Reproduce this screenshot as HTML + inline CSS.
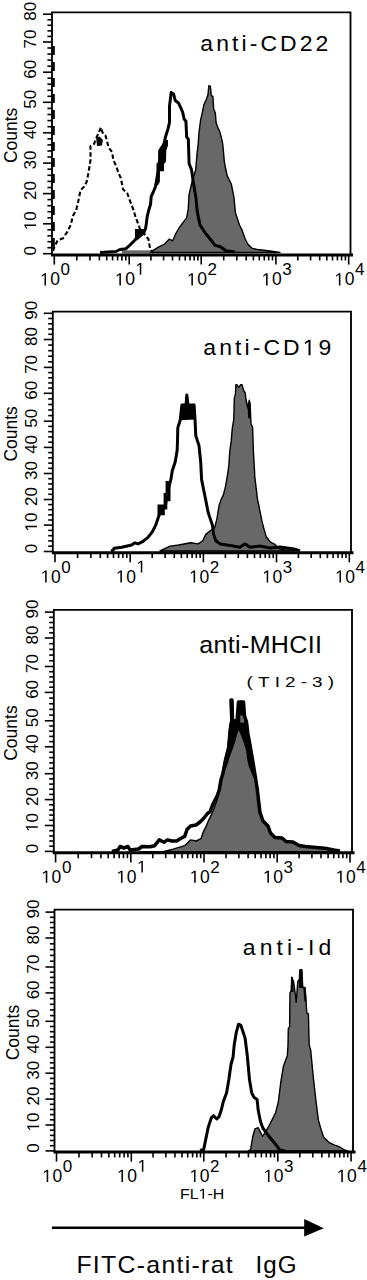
<!DOCTYPE html><html><head><meta charset="utf-8"><style>html,body{margin:0;padding:0;background:#fff;} svg{display:block} text{font-family:"Liberation Sans", sans-serif;fill:#000}</style></head><body>
<svg width="367" height="1280" viewBox="0 0 367 1280">
<polygon points="148.0,252.5 150.6,252.2 158.0,247.3 164.5,244.0 169.4,239.1 172.7,240.8 175.1,235.0 179.2,227.7 181.7,224.4 184.1,221.2 186.6,217.9 188.2,209.7 189.0,195.0 192.5,180.0 195.7,170.0 196.9,155.2 198.2,143.8 199.0,132.3 200.6,120.0 202.3,112.7 203.9,104.5 206.3,99.6 208.0,94.7 208.8,85.7 210.4,86.5 211.3,95.5 212.9,96.3 213.7,109.4 215.3,112.7 216.2,123.3 217.8,127.4 219.4,130.7 221.1,136.4 222.7,143.8 223.5,152.0 224.3,161.7 225.5,168.0 227.2,175.9 231.3,184.0 234.0,197.7 235.4,212.7 239.5,225.0 242.2,230.4 245.0,238.6 247.7,244.0 251.7,248.1 257.2,249.5 270.0,251.0 280.0,252.5" fill="#686868" stroke="#000" stroke-width="1.4" stroke-linejoin="round"/>
<polygon points="122.0,250.3 150.0,250.3 150.0,253.5 122.0,253.5" fill="#686868"/>
<polyline points="100.0,252.5 116.0,251.5 120.0,249.5 126.0,248.7 130.0,245.0 133.0,242.0 135.5,239.5 139.0,236.5 143.0,233.0 145.5,229.0 146.3,223.6 147.3,216.0 149.0,209.4 150.6,204.0 151.2,196.3 153.3,192.0 155.5,186.5 157.2,180.0 158.1,173.3 159.7,161.8 160.5,150.4 163.8,145.5 165.4,137.3 167.9,129.1 169.5,122.6 169.5,106.3 171.2,92.4 173.6,94.0 175.2,100.5 178.5,103.0 180.1,106.3 182.6,112.0 184.2,119.3 185.9,121.0 186.7,137.3 188.3,139.0 189.1,163.5 191.6,170.0 193.2,181.3 195.9,197.7 197.2,211.3 200.0,225.0 205.4,233.1 210.9,240.0 215.0,245.4 220.4,246.7 225.9,250.8 235.0,252.0" fill="none" stroke="#000" stroke-width="3.0" stroke-linejoin="round"/>
<polygon points="158.2,150.2 162.3,144.0 164.3,140.0 168.0,140.0 168.0,145.4 166.3,150.2 166.0,161.8 164.0,163.8 164.0,171.3 159.9,171.3 159.9,181.6 158.2,185.0 154.4,185.0 156.5,171.3 156.5,163.8 158.2,161.8" fill="#000"/>
<polygon points="135.0,229.0 145.5,229.0 145.5,233.0 141.0,237.0 138.0,239.5 134.9,239.3" fill="#000"/>
<polyline points="53.0,251.0 54.4,246.9 57.6,240.4 63.1,238.2 67.4,231.7 70.7,225.1 72.9,216.0 76.2,210.0 78.3,201.2 80.5,190.3 83.8,187.0 86.7,181.8 88.6,172.0 90.5,160.0 90.5,146.0 94.0,144.0 96.3,138.0 101.0,127.4 103.0,134.0 105.7,136.0 108.6,147.4 112.0,152.0 113.4,160.0 116.5,167.0 118.5,173.0 120.8,178.0 123.0,189.2 127.4,193.5 130.0,201.0 133.5,210.0 135.5,217.0 137.5,222.0 140.0,229.0 145.0,235.0 148.4,239.0 150.0,248.0 152.0,252.0" fill="none" stroke="#000" stroke-width="2.1" stroke-linejoin="round" stroke-dasharray="4.5 2.5"/>
<path d="M53.2,46 L53.2,252" stroke="#000" stroke-width="3.2" stroke-dasharray="9 7"/>
<polygon points="160.0,551.0 170.0,546.1 178.7,545.0 190.7,542.8 198.3,543.9 202.7,540.7 206.0,534.1 210.3,530.8 214.7,527.6 216.9,518.9 219.0,505.8 221.2,499.2 223.4,494.9 225.6,486.2 227.8,473.1 228.9,464.9 229.7,451.8 231.3,440.4 232.2,429.0 233.8,419.1 234.3,397.9 235.4,394.6 235.9,384.8 237.0,384.8 238.7,387.5 240.5,384.8 242.0,384.8 243.6,390.5 245.2,393.0 246.0,399.5 247.7,407.7 249.3,400.3 250.1,403.6 251.0,424.0 252.6,427.3 253.4,451.8 254.2,464.9 254.8,476.8 257.4,498.6 259.6,509.5 261.8,520.4 264.0,529.1 266.2,536.7 270.5,542.2 274.9,544.4 279.2,548.7 283.6,549.8 295.0,551.0" fill="#686868" stroke="#000" stroke-width="1.4" stroke-linejoin="round"/>
<polygon points="181.9,405.0 194.1,405.0 195.0,419.4 180.2,420.2" fill="#000"/>
<polyline points="111.0,551.0 113.0,550.3 114.2,548.3 121.8,547.2 131.6,545.0 134.9,542.8 138.1,543.9 142.5,541.7 148.0,537.4 152.3,531.9 155.6,525.4 157.8,518.9 161.0,510.0 165.5,505.0 166.5,498.0 168.0,490.0 171.0,479.0 172.2,471.0 175.2,462.0 177.2,450.0 177.5,441.0 177.8,427.6 180.2,420.2 181.9,405.0 186.0,405.0 186.8,395.0 188.0,405.0 194.1,405.0 195.0,419.4 195.8,435.8 197.4,440.7 199.0,445.6 200.7,462.0 201.6,479.6 203.8,490.5 206.0,501.4 208.1,512.3 210.3,518.9 212.5,525.4 213.6,534.1 215.8,540.7 220.1,543.9 226.7,545.0 233.2,546.1 239.8,547.2 245.2,543.9 250.0,547.2 260.0,546.0 270.0,548.0 280.0,547.0 294.0,549.0 300.0,551.0" fill="none" stroke="#000" stroke-width="3.0" stroke-linejoin="round"/>
<polygon points="165.6,481.0 170.5,481.0 170.5,501.3 167.3,501.3 167.3,509.5 164.8,509.5 164.8,515.2 157.5,515.2 157.5,504.6 163.6,504.6 163.6,493.0 165.6,493.0" fill="#000"/>
<polygon points="247.5,406.0 249.3,400.3 250.2,404.0 250.6,418.3 248.2,418.3" fill="#000"/>
<polygon points="221.5,774.0 224.0,760.9 226.0,752.0 227.3,747.8 228.9,729.8 230.0,722.0 230.2,700.0 231.5,700.0 232.3,720.0 237.5,720.0 238.2,701.6 243.6,701.6 244.2,715.0 246.0,716.0 246.9,733.0 249.3,747.8 251.8,762.5 254.0,774.0" fill="#000"/>
<polygon points="140.0,852.0 163.9,851.5 173.2,849.2 184.7,845.7 190.5,839.9 196.3,841.0 201.0,838.7 203.3,831.8 205.9,826.9 208.6,820.3 211.3,814.9 213.5,810.0 217.0,800.0 219.2,790.0 220.9,780.0 222.8,774.0 225.5,768.0 227.5,762.0 229.3,756.0 231.3,751.0 233.0,746.0 234.6,741.3 236.2,735.0 237.9,729.8 239.5,730.0 241.5,735.0 243.5,740.0 245.5,746.0 247.0,751.3 247.7,758.0 249.0,765.0 251.0,770.0 253.0,775.0 255.4,780.0 257.2,788.7 258.5,800.0 260.0,812.5 263.0,821.0 268.0,826.0 270.5,833.0 275.0,837.5 282.0,838.5 286.0,841.5 293.0,842.5 299.0,845.5 305.4,846.8 316.3,847.8 327.2,849.0 334.0,850.5 340.0,852.0" fill="#686868" stroke="#000" stroke-width="1.4" stroke-linejoin="round"/>
<polygon points="240.2,715.5 244.3,715.5 244.3,722.7 240.2,722.7" fill="#686868"/>
<polyline points="112.0,851.5 118.0,850.0 120.0,846.5 124.0,848.0 128.0,846.5 130.0,850.0 138.6,849.0 142.0,846.5 150.0,846.8 154.6,845.7 159.3,839.9 163.9,842.2 167.4,839.9 172.0,841.0 176.6,841.0 180.1,838.7 184.7,836.4 187.0,829.5 190.5,826.0 196.0,825.0 200.0,822.0 203.5,818.5 207.5,813.5 210.0,811.6 213.5,803.0 217.0,796.3 219.2,790.0 220.9,780.0 222.8,774.0 225.3,760.9 228.6,747.8 230.2,729.8 231.8,720.0 231.0,700.0 232.0,700.0 232.5,720.0 237.0,722.0 238.5,702.0 243.5,702.0 244.5,716.0 246.5,722.0 247.8,733.0 250.5,747.8 253.0,762.5 255.4,777.2 257.2,788.7 258.5,800.0 260.0,812.5 263.0,821.0 268.0,826.0 270.5,833.0 275.0,837.5 282.0,838.0 286.0,841.5 293.0,842.0 299.0,845.5 305.4,846.5 316.3,847.5 327.2,848.6 334.0,850.0 340.0,851.0" fill="none" stroke="#000" stroke-width="3.5" stroke-linejoin="round"/>
<polygon points="248.0,1151.0 250.6,1149.5 252.8,1136.4 255.0,1128.8 258.2,1127.7 260.4,1132.1 262.6,1136.4 265.4,1131.9 267.9,1128.0 271.8,1120.2 275.7,1112.5 278.3,1102.1 279.6,1091.8 280.9,1081.4 283.5,1065.9 287.4,1055.5 288.0,1044.9 288.3,1028.6 289.6,1026.9 290.0,992.6 291.3,991.0 291.7,977.1 293.7,982.0 295.3,994.2 296.2,1002.4 297.8,981.2 299.4,979.5 299.9,969.7 301.9,969.7 302.7,986.9 305.1,987.7 306.0,1000.8 306.8,1013.0 308.4,1013.9 309.2,1044.9 310.7,1050.4 313.2,1076.2 315.8,1099.5 318.4,1120.2 321.0,1129.3 323.6,1137.1 328.8,1142.3 334.0,1144.8 337.8,1146.1 340.4,1147.4 344.3,1150.0 348.0,1151.0" fill="#686868" stroke="#000" stroke-width="1.4" stroke-linejoin="round"/>
<polyline points="200.0,1150.5 203.7,1149.5 205.9,1138.6 208.1,1127.7 211.3,1117.9 213.5,1115.7 216.8,1119.0 219.0,1116.8 221.2,1110.3 223.3,1101.6 226.6,1092.8 228.8,1079.8 231.0,1064.5 233.1,1056.9 234.2,1044.9 236.4,1031.8 238.6,1024.2 240.8,1025.3 243.0,1031.8 245.1,1038.3 247.3,1055.8 249.5,1079.8 251.7,1092.8 253.9,1097.2 257.1,1099.4 258.2,1110.3 260.4,1121.2 262.8,1128.0 266.6,1133.2 271.8,1139.7 277.0,1146.1 279.6,1150.0 285.0,1151.0" fill="none" stroke="#000" stroke-width="3.0" stroke-linejoin="round"/>
<polygon points="290.6,992.0 291.3,977.0 292.9,977.5 293.6,992.0" fill="#000"/>
<polygon points="298.8,988.0 299.3,969.7 302.2,969.7 302.9,987.7" fill="#000"/>
<polygon points="303.2,987.2 305.6,987.7 306.6,1001.6 304.5,1001.6" fill="#000"/>
<polygon points="96.2,138.0 99.5,136.5 102.9,140.0 102.0,145.5 97.0,146.0" fill="#000"/>
<path d="M52.0,254.6 L52.0,12.3 L350.5,12.3 L350.5,254.6" fill="none" stroke="#000" stroke-width="1.85"/>
<path d="M51.0,255.0 L353.0,255.0" fill="none" stroke="#000" stroke-width="3.1"/>
<path d="M43.0,253.7 L52.0,253.7" stroke="#000" stroke-width="1.6"/>
<path d="M47.4,247.7 L52.0,247.7" stroke="#000" stroke-width="1.6"/>
<path d="M47.4,241.7 L52.0,241.7" stroke="#000" stroke-width="1.6"/>
<path d="M47.4,235.8 L52.0,235.8" stroke="#000" stroke-width="1.6"/>
<path d="M47.4,229.8 L52.0,229.8" stroke="#000" stroke-width="1.6"/>
<path d="M43.0,223.8 L52.0,223.8" stroke="#000" stroke-width="1.6"/>
<path d="M47.4,217.8 L52.0,217.8" stroke="#000" stroke-width="1.6"/>
<path d="M47.4,211.7 L52.0,211.7" stroke="#000" stroke-width="1.6"/>
<path d="M47.4,205.7 L52.0,205.7" stroke="#000" stroke-width="1.6"/>
<path d="M47.4,199.6 L52.0,199.6" stroke="#000" stroke-width="1.6"/>
<path d="M43.0,193.6 L52.0,193.6" stroke="#000" stroke-width="1.6"/>
<path d="M47.4,187.5 L52.0,187.5" stroke="#000" stroke-width="1.6"/>
<path d="M47.4,181.4 L52.0,181.4" stroke="#000" stroke-width="1.6"/>
<path d="M47.4,175.3 L52.0,175.3" stroke="#000" stroke-width="1.6"/>
<path d="M47.4,169.2 L52.0,169.2" stroke="#000" stroke-width="1.6"/>
<path d="M43.0,163.1 L52.0,163.1" stroke="#000" stroke-width="1.6"/>
<path d="M47.4,157.0 L52.0,157.0" stroke="#000" stroke-width="1.6"/>
<path d="M47.4,151.0 L52.0,151.0" stroke="#000" stroke-width="1.6"/>
<path d="M47.4,144.9 L52.0,144.9" stroke="#000" stroke-width="1.6"/>
<path d="M47.4,138.9 L52.0,138.9" stroke="#000" stroke-width="1.6"/>
<path d="M43.0,132.8 L52.0,132.8" stroke="#000" stroke-width="1.6"/>
<path d="M47.4,126.7 L52.0,126.7" stroke="#000" stroke-width="1.6"/>
<path d="M47.4,120.6 L52.0,120.6" stroke="#000" stroke-width="1.6"/>
<path d="M47.4,114.5 L52.0,114.5" stroke="#000" stroke-width="1.6"/>
<path d="M47.4,108.4 L52.0,108.4" stroke="#000" stroke-width="1.6"/>
<path d="M43.0,102.3 L52.0,102.3" stroke="#000" stroke-width="1.6"/>
<path d="M47.4,96.3 L52.0,96.3" stroke="#000" stroke-width="1.6"/>
<path d="M47.4,90.3 L52.0,90.3" stroke="#000" stroke-width="1.6"/>
<path d="M47.4,84.2 L52.0,84.2" stroke="#000" stroke-width="1.6"/>
<path d="M47.4,78.2 L52.0,78.2" stroke="#000" stroke-width="1.6"/>
<path d="M43.0,72.2 L52.0,72.2" stroke="#000" stroke-width="1.6"/>
<path d="M47.4,66.2 L52.0,66.2" stroke="#000" stroke-width="1.6"/>
<path d="M47.4,60.1 L52.0,60.1" stroke="#000" stroke-width="1.6"/>
<path d="M47.4,54.1 L52.0,54.1" stroke="#000" stroke-width="1.6"/>
<path d="M47.4,48.0 L52.0,48.0" stroke="#000" stroke-width="1.6"/>
<path d="M43.0,42.0 L52.0,42.0" stroke="#000" stroke-width="1.6"/>
<path d="M47.4,36.4 L52.0,36.4" stroke="#000" stroke-width="1.6"/>
<path d="M47.4,30.9 L52.0,30.9" stroke="#000" stroke-width="1.6"/>
<path d="M47.4,25.3 L52.0,25.3" stroke="#000" stroke-width="1.6"/>
<path d="M47.4,19.8 L52.0,19.8" stroke="#000" stroke-width="1.6"/>
<path d="M43.0,14.2 L52.0,14.2" stroke="#000" stroke-width="1.6"/>
<g transform="translate(36.0,250.7) rotate(-90)"><text text-anchor="middle" font-size="17">0</text></g>
<g transform="translate(36.0,220.8) rotate(-90)"><text text-anchor="middle" font-size="17"> 0</text><path d="M515,0 L515,1237 L197,1010 L197,1180 L530,1409 L696,1409 L696,0 Z" transform="translate(-9.46,0.00) scale(0.00830,-0.00830)"/></g>
<g transform="translate(36.0,190.6) rotate(-90)"><text text-anchor="middle" font-size="17">20</text></g>
<g transform="translate(36.0,160.1) rotate(-90)"><text text-anchor="middle" font-size="17">30</text></g>
<g transform="translate(36.0,129.8) rotate(-90)"><text text-anchor="middle" font-size="17">40</text></g>
<g transform="translate(36.0,99.3) rotate(-90)"><text text-anchor="middle" font-size="17">50</text></g>
<g transform="translate(36.0,69.2) rotate(-90)"><text text-anchor="middle" font-size="17">60</text></g>
<g transform="translate(36.0,39.0) rotate(-90)"><text text-anchor="middle" font-size="17">70</text></g>
<g transform="translate(36.0,11.2) rotate(-90)"><text text-anchor="middle" font-size="17">80</text></g>
<path d="M54.3,254.6 L54.3,264.6" stroke="#000" stroke-width="1.6"/>
<path d="M76.8,254.6 L76.8,260.4" stroke="#000" stroke-width="1.6"/>
<path d="M90.0,254.6 L90.0,260.4" stroke="#000" stroke-width="1.6"/>
<path d="M99.4,254.6 L99.4,260.4" stroke="#000" stroke-width="1.6"/>
<path d="M106.7,254.6 L106.7,260.4" stroke="#000" stroke-width="1.6"/>
<path d="M112.6,254.6 L112.6,260.4" stroke="#000" stroke-width="1.6"/>
<path d="M117.6,254.6 L117.6,260.4" stroke="#000" stroke-width="1.6"/>
<path d="M121.9,254.6 L121.9,260.4" stroke="#000" stroke-width="1.6"/>
<path d="M125.8,254.6 L125.8,260.4" stroke="#000" stroke-width="1.6"/>
<path d="M129.2,254.6 L129.2,264.6" stroke="#000" stroke-width="1.6"/>
<path d="M150.9,254.6 L150.9,260.4" stroke="#000" stroke-width="1.6"/>
<path d="M163.6,254.6 L163.6,260.4" stroke="#000" stroke-width="1.6"/>
<path d="M172.5,254.6 L172.5,260.4" stroke="#000" stroke-width="1.6"/>
<path d="M179.5,254.6 L179.5,260.4" stroke="#000" stroke-width="1.6"/>
<path d="M185.2,254.6 L185.2,260.4" stroke="#000" stroke-width="1.6"/>
<path d="M190.0,254.6 L190.0,260.4" stroke="#000" stroke-width="1.6"/>
<path d="M194.2,254.6 L194.2,260.4" stroke="#000" stroke-width="1.6"/>
<path d="M197.9,254.6 L197.9,260.4" stroke="#000" stroke-width="1.6"/>
<path d="M201.2,254.6 L201.2,264.6" stroke="#000" stroke-width="1.6"/>
<path d="M223.7,254.6 L223.7,260.4" stroke="#000" stroke-width="1.6"/>
<path d="M236.8,254.6 L236.8,260.4" stroke="#000" stroke-width="1.6"/>
<path d="M246.2,254.6 L246.2,260.4" stroke="#000" stroke-width="1.6"/>
<path d="M253.4,254.6 L253.4,260.4" stroke="#000" stroke-width="1.6"/>
<path d="M259.3,254.6 L259.3,260.4" stroke="#000" stroke-width="1.6"/>
<path d="M264.3,254.6 L264.3,260.4" stroke="#000" stroke-width="1.6"/>
<path d="M268.7,254.6 L268.7,260.4" stroke="#000" stroke-width="1.6"/>
<path d="M272.5,254.6 L272.5,260.4" stroke="#000" stroke-width="1.6"/>
<path d="M275.9,254.6 L275.9,264.6" stroke="#000" stroke-width="1.6"/>
<path d="M297.8,254.6 L297.8,260.4" stroke="#000" stroke-width="1.6"/>
<path d="M310.6,254.6 L310.6,260.4" stroke="#000" stroke-width="1.6"/>
<path d="M319.7,254.6 L319.7,260.4" stroke="#000" stroke-width="1.6"/>
<path d="M326.8,254.6 L326.8,260.4" stroke="#000" stroke-width="1.6"/>
<path d="M332.5,254.6 L332.5,260.4" stroke="#000" stroke-width="1.6"/>
<path d="M337.4,254.6 L337.4,260.4" stroke="#000" stroke-width="1.6"/>
<path d="M341.6,254.6 L341.6,260.4" stroke="#000" stroke-width="1.6"/>
<path d="M345.4,254.6 L345.4,260.4" stroke="#000" stroke-width="1.6"/>
<path d="M348.7,254.6 L348.7,264.6" stroke="#000" stroke-width="1.6"/>
<text x="50.3" y="285.4" text-anchor="middle" font-size="17.5" letter-spacing="0.5"> 0</text><path d="M515,0 L515,1237 L197,1010 L197,1180 L530,1409 L696,1409 L696,0 Z" transform="translate(40.07,285.40) scale(0.00854,-0.00854)"/>
<text x="60.6" y="274.8" font-size="17">0</text>
<text x="125.2" y="285.4" text-anchor="middle" font-size="17.5" letter-spacing="0.5"> 0</text><path d="M515,0 L515,1237 L197,1010 L197,1180 L530,1409 L696,1409 L696,0 Z" transform="translate(114.97,285.40) scale(0.00854,-0.00854)"/>
<text x="135.5" y="274.8" font-size="17"> </text><path d="M515,0 L515,1237 L197,1010 L197,1180 L530,1409 L696,1409 L696,0 Z" transform="translate(135.50,274.80) scale(0.00830,-0.00830)"/>
<text x="197.2" y="285.4" text-anchor="middle" font-size="17.5" letter-spacing="0.5"> 0</text><path d="M515,0 L515,1237 L197,1010 L197,1180 L530,1409 L696,1409 L696,0 Z" transform="translate(186.97,285.40) scale(0.00854,-0.00854)"/>
<text x="207.5" y="274.8" font-size="17">2</text>
<text x="271.9" y="285.4" text-anchor="middle" font-size="17.5" letter-spacing="0.5"> 0</text><path d="M515,0 L515,1237 L197,1010 L197,1180 L530,1409 L696,1409 L696,0 Z" transform="translate(261.67,285.40) scale(0.00854,-0.00854)"/>
<text x="282.2" y="274.8" font-size="17">3</text>
<text x="344.7" y="285.4" text-anchor="middle" font-size="17.5" letter-spacing="0.5"> 0</text><path d="M515,0 L515,1237 L197,1010 L197,1180 L530,1409 L696,1409 L696,0 Z" transform="translate(334.47,285.40) scale(0.00854,-0.00854)"/>
<text x="355.0" y="274.8" font-size="17">4</text>
<text transform="translate(16.8,135.4) rotate(-90)" text-anchor="middle" font-size="17.5">Counts</text>
<path d="M52.8,552.3 L52.8,311.6 L351.0,311.6 L351.0,552.3" fill="none" stroke="#000" stroke-width="1.85"/>
<path d="M51.8,552.6999999999999 L353.5,552.6999999999999" fill="none" stroke="#000" stroke-width="3.1"/>
<path d="M43.8,551.5 L52.8,551.5" stroke="#000" stroke-width="1.6"/>
<path d="M48.2,546.2 L52.8,546.2" stroke="#000" stroke-width="1.6"/>
<path d="M48.2,540.9 L52.8,540.9" stroke="#000" stroke-width="1.6"/>
<path d="M48.2,535.7 L52.8,535.7" stroke="#000" stroke-width="1.6"/>
<path d="M48.2,530.4 L52.8,530.4" stroke="#000" stroke-width="1.6"/>
<path d="M43.8,525.1 L52.8,525.1" stroke="#000" stroke-width="1.6"/>
<path d="M48.2,520.0 L52.8,520.0" stroke="#000" stroke-width="1.6"/>
<path d="M48.2,514.9 L52.8,514.9" stroke="#000" stroke-width="1.6"/>
<path d="M48.2,509.7 L52.8,509.7" stroke="#000" stroke-width="1.6"/>
<path d="M48.2,504.6 L52.8,504.6" stroke="#000" stroke-width="1.6"/>
<path d="M43.8,499.5 L52.8,499.5" stroke="#000" stroke-width="1.6"/>
<path d="M48.2,494.3 L52.8,494.3" stroke="#000" stroke-width="1.6"/>
<path d="M48.2,489.1 L52.8,489.1" stroke="#000" stroke-width="1.6"/>
<path d="M48.2,483.9 L52.8,483.9" stroke="#000" stroke-width="1.6"/>
<path d="M48.2,478.7 L52.8,478.7" stroke="#000" stroke-width="1.6"/>
<path d="M43.8,473.5 L52.8,473.5" stroke="#000" stroke-width="1.6"/>
<path d="M48.2,468.3 L52.8,468.3" stroke="#000" stroke-width="1.6"/>
<path d="M48.2,463.1 L52.8,463.1" stroke="#000" stroke-width="1.6"/>
<path d="M48.2,457.8 L52.8,457.8" stroke="#000" stroke-width="1.6"/>
<path d="M48.2,452.6 L52.8,452.6" stroke="#000" stroke-width="1.6"/>
<path d="M43.8,447.4 L52.8,447.4" stroke="#000" stroke-width="1.6"/>
<path d="M48.2,442.2 L52.8,442.2" stroke="#000" stroke-width="1.6"/>
<path d="M48.2,436.9 L52.8,436.9" stroke="#000" stroke-width="1.6"/>
<path d="M48.2,431.7 L52.8,431.7" stroke="#000" stroke-width="1.6"/>
<path d="M48.2,426.4 L52.8,426.4" stroke="#000" stroke-width="1.6"/>
<path d="M43.8,421.2 L52.8,421.2" stroke="#000" stroke-width="1.6"/>
<path d="M48.2,415.6 L52.8,415.6" stroke="#000" stroke-width="1.6"/>
<path d="M48.2,410.0 L52.8,410.0" stroke="#000" stroke-width="1.6"/>
<path d="M48.2,404.5 L52.8,404.5" stroke="#000" stroke-width="1.6"/>
<path d="M48.2,398.9 L52.8,398.9" stroke="#000" stroke-width="1.6"/>
<path d="M43.8,393.3 L52.8,393.3" stroke="#000" stroke-width="1.6"/>
<path d="M48.2,388.1 L52.8,388.1" stroke="#000" stroke-width="1.6"/>
<path d="M48.2,382.9 L52.8,382.9" stroke="#000" stroke-width="1.6"/>
<path d="M48.2,377.8 L52.8,377.8" stroke="#000" stroke-width="1.6"/>
<path d="M48.2,372.6 L52.8,372.6" stroke="#000" stroke-width="1.6"/>
<path d="M43.8,367.4 L52.8,367.4" stroke="#000" stroke-width="1.6"/>
<path d="M48.2,361.8 L52.8,361.8" stroke="#000" stroke-width="1.6"/>
<path d="M48.2,356.2 L52.8,356.2" stroke="#000" stroke-width="1.6"/>
<path d="M48.2,350.7 L52.8,350.7" stroke="#000" stroke-width="1.6"/>
<path d="M48.2,345.1 L52.8,345.1" stroke="#000" stroke-width="1.6"/>
<path d="M43.8,339.5 L52.8,339.5" stroke="#000" stroke-width="1.6"/>
<path d="M48.2,334.3 L52.8,334.3" stroke="#000" stroke-width="1.6"/>
<path d="M48.2,329.0 L52.8,329.0" stroke="#000" stroke-width="1.6"/>
<path d="M48.2,323.8 L52.8,323.8" stroke="#000" stroke-width="1.6"/>
<path d="M48.2,318.5 L52.8,318.5" stroke="#000" stroke-width="1.6"/>
<path d="M43.8,313.3 L52.8,313.3" stroke="#000" stroke-width="1.6"/>
<g transform="translate(37.0,548.5) rotate(-90)"><text text-anchor="middle" font-size="17">0</text></g>
<g transform="translate(37.0,522.1) rotate(-90)"><text text-anchor="middle" font-size="17"> 0</text><path d="M515,0 L515,1237 L197,1010 L197,1180 L530,1409 L696,1409 L696,0 Z" transform="translate(-9.46,0.00) scale(0.00830,-0.00830)"/></g>
<g transform="translate(37.0,496.5) rotate(-90)"><text text-anchor="middle" font-size="17">20</text></g>
<g transform="translate(37.0,470.5) rotate(-90)"><text text-anchor="middle" font-size="17">30</text></g>
<g transform="translate(37.0,444.4) rotate(-90)"><text text-anchor="middle" font-size="17">40</text></g>
<g transform="translate(37.0,418.2) rotate(-90)"><text text-anchor="middle" font-size="17">50</text></g>
<g transform="translate(37.0,390.3) rotate(-90)"><text text-anchor="middle" font-size="17">60</text></g>
<g transform="translate(37.0,364.4) rotate(-90)"><text text-anchor="middle" font-size="17">70</text></g>
<g transform="translate(37.0,336.5) rotate(-90)"><text text-anchor="middle" font-size="17">80</text></g>
<g transform="translate(37.0,310.3) rotate(-90)"><text text-anchor="middle" font-size="17">90</text></g>
<path d="M55.0,552.3 L55.0,562.3" stroke="#000" stroke-width="1.6"/>
<path d="M77.6,552.3 L77.6,558.0999999999999" stroke="#000" stroke-width="1.6"/>
<path d="M90.9,552.3 L90.9,558.0999999999999" stroke="#000" stroke-width="1.6"/>
<path d="M100.3,552.3 L100.3,558.0999999999999" stroke="#000" stroke-width="1.6"/>
<path d="M107.6,552.3 L107.6,558.0999999999999" stroke="#000" stroke-width="1.6"/>
<path d="M113.5,552.3 L113.5,558.0999999999999" stroke="#000" stroke-width="1.6"/>
<path d="M118.6,552.3 L118.6,558.0999999999999" stroke="#000" stroke-width="1.6"/>
<path d="M122.9,552.3 L122.9,558.0999999999999" stroke="#000" stroke-width="1.6"/>
<path d="M126.8,552.3 L126.8,558.0999999999999" stroke="#000" stroke-width="1.6"/>
<path d="M130.2,552.3 L130.2,562.3" stroke="#000" stroke-width="1.6"/>
<path d="M152.2,552.3 L152.2,558.0999999999999" stroke="#000" stroke-width="1.6"/>
<path d="M165.1,552.3 L165.1,558.0999999999999" stroke="#000" stroke-width="1.6"/>
<path d="M174.3,552.3 L174.3,558.0999999999999" stroke="#000" stroke-width="1.6"/>
<path d="M181.4,552.3 L181.4,558.0999999999999" stroke="#000" stroke-width="1.6"/>
<path d="M187.2,552.3 L187.2,558.0999999999999" stroke="#000" stroke-width="1.6"/>
<path d="M192.1,552.3 L192.1,558.0999999999999" stroke="#000" stroke-width="1.6"/>
<path d="M196.3,552.3 L196.3,558.0999999999999" stroke="#000" stroke-width="1.6"/>
<path d="M200.1,552.3 L200.1,558.0999999999999" stroke="#000" stroke-width="1.6"/>
<path d="M203.4,552.3 L203.4,562.3" stroke="#000" stroke-width="1.6"/>
<path d="M225.4,552.3 L225.4,558.0999999999999" stroke="#000" stroke-width="1.6"/>
<path d="M238.3,552.3 L238.3,558.0999999999999" stroke="#000" stroke-width="1.6"/>
<path d="M247.4,552.3 L247.4,558.0999999999999" stroke="#000" stroke-width="1.6"/>
<path d="M254.5,552.3 L254.5,558.0999999999999" stroke="#000" stroke-width="1.6"/>
<path d="M260.3,552.3 L260.3,558.0999999999999" stroke="#000" stroke-width="1.6"/>
<path d="M265.2,552.3 L265.2,558.0999999999999" stroke="#000" stroke-width="1.6"/>
<path d="M269.4,552.3 L269.4,558.0999999999999" stroke="#000" stroke-width="1.6"/>
<path d="M273.2,552.3 L273.2,558.0999999999999" stroke="#000" stroke-width="1.6"/>
<path d="M276.5,552.3 L276.5,562.3" stroke="#000" stroke-width="1.6"/>
<path d="M298.4,552.3 L298.4,558.0999999999999" stroke="#000" stroke-width="1.6"/>
<path d="M311.2,552.3 L311.2,558.0999999999999" stroke="#000" stroke-width="1.6"/>
<path d="M320.3,552.3 L320.3,558.0999999999999" stroke="#000" stroke-width="1.6"/>
<path d="M327.4,552.3 L327.4,558.0999999999999" stroke="#000" stroke-width="1.6"/>
<path d="M333.1,552.3 L333.1,558.0999999999999" stroke="#000" stroke-width="1.6"/>
<path d="M338.0,552.3 L338.0,558.0999999999999" stroke="#000" stroke-width="1.6"/>
<path d="M342.2,552.3 L342.2,558.0999999999999" stroke="#000" stroke-width="1.6"/>
<path d="M346.0,552.3 L346.0,558.0999999999999" stroke="#000" stroke-width="1.6"/>
<path d="M349.3,552.3 L349.3,562.3" stroke="#000" stroke-width="1.6"/>
<text x="51.0" y="582.6" text-anchor="middle" font-size="17.5" letter-spacing="0.5"> 0</text><path d="M515,0 L515,1237 L197,1010 L197,1180 L530,1409 L696,1409 L696,0 Z" transform="translate(40.77,582.60) scale(0.00854,-0.00854)"/>
<text x="61.3" y="572.5" font-size="17">0</text>
<text x="126.2" y="582.6" text-anchor="middle" font-size="17.5" letter-spacing="0.5"> 0</text><path d="M515,0 L515,1237 L197,1010 L197,1180 L530,1409 L696,1409 L696,0 Z" transform="translate(115.97,582.60) scale(0.00854,-0.00854)"/>
<text x="136.5" y="572.5" font-size="17"> </text><path d="M515,0 L515,1237 L197,1010 L197,1180 L530,1409 L696,1409 L696,0 Z" transform="translate(136.50,572.50) scale(0.00830,-0.00830)"/>
<text x="199.4" y="582.6" text-anchor="middle" font-size="17.5" letter-spacing="0.5"> 0</text><path d="M515,0 L515,1237 L197,1010 L197,1180 L530,1409 L696,1409 L696,0 Z" transform="translate(189.17,582.60) scale(0.00854,-0.00854)"/>
<text x="209.7" y="572.5" font-size="17">2</text>
<text x="272.5" y="582.6" text-anchor="middle" font-size="17.5" letter-spacing="0.5"> 0</text><path d="M515,0 L515,1237 L197,1010 L197,1180 L530,1409 L696,1409 L696,0 Z" transform="translate(262.27,582.60) scale(0.00854,-0.00854)"/>
<text x="282.8" y="572.5" font-size="17">3</text>
<text x="345.3" y="582.6" text-anchor="middle" font-size="17.5" letter-spacing="0.5"> 0</text><path d="M515,0 L515,1237 L197,1010 L197,1180 L530,1409 L696,1409 L696,0 Z" transform="translate(335.07,582.60) scale(0.00854,-0.00854)"/>
<text x="355.6" y="572.5" font-size="17">4</text>
<text transform="translate(17.0,433.9) rotate(-90)" text-anchor="middle" font-size="17.5">Counts</text>
<path d="M53.8,852.4 L53.8,609.8 L352.0,609.8 L352.0,852.4" fill="none" stroke="#000" stroke-width="1.85"/>
<path d="M52.8,852.8 L354.5,852.8" fill="none" stroke="#000" stroke-width="3.1"/>
<path d="M44.8,851.4 L53.8,851.4" stroke="#000" stroke-width="1.6"/>
<path d="M49.2,846.2 L53.8,846.2" stroke="#000" stroke-width="1.6"/>
<path d="M49.2,841.0 L53.8,841.0" stroke="#000" stroke-width="1.6"/>
<path d="M49.2,835.9 L53.8,835.9" stroke="#000" stroke-width="1.6"/>
<path d="M49.2,830.7 L53.8,830.7" stroke="#000" stroke-width="1.6"/>
<path d="M44.8,825.5 L53.8,825.5" stroke="#000" stroke-width="1.6"/>
<path d="M49.2,820.3 L53.8,820.3" stroke="#000" stroke-width="1.6"/>
<path d="M49.2,815.1 L53.8,815.1" stroke="#000" stroke-width="1.6"/>
<path d="M49.2,810.0 L53.8,810.0" stroke="#000" stroke-width="1.6"/>
<path d="M49.2,804.8 L53.8,804.8" stroke="#000" stroke-width="1.6"/>
<path d="M44.8,799.6 L53.8,799.6" stroke="#000" stroke-width="1.6"/>
<path d="M49.2,794.4 L53.8,794.4" stroke="#000" stroke-width="1.6"/>
<path d="M49.2,789.2 L53.8,789.2" stroke="#000" stroke-width="1.6"/>
<path d="M49.2,784.1 L53.8,784.1" stroke="#000" stroke-width="1.6"/>
<path d="M49.2,778.9 L53.8,778.9" stroke="#000" stroke-width="1.6"/>
<path d="M44.8,773.7 L53.8,773.7" stroke="#000" stroke-width="1.6"/>
<path d="M49.2,768.3 L53.8,768.3" stroke="#000" stroke-width="1.6"/>
<path d="M49.2,762.9 L53.8,762.9" stroke="#000" stroke-width="1.6"/>
<path d="M49.2,757.6 L53.8,757.6" stroke="#000" stroke-width="1.6"/>
<path d="M49.2,752.2 L53.8,752.2" stroke="#000" stroke-width="1.6"/>
<path d="M44.8,746.8 L53.8,746.8" stroke="#000" stroke-width="1.6"/>
<path d="M49.2,741.6 L53.8,741.6" stroke="#000" stroke-width="1.6"/>
<path d="M49.2,736.4 L53.8,736.4" stroke="#000" stroke-width="1.6"/>
<path d="M49.2,731.2 L53.8,731.2" stroke="#000" stroke-width="1.6"/>
<path d="M49.2,726.0 L53.8,726.0" stroke="#000" stroke-width="1.6"/>
<path d="M44.8,720.8 L53.8,720.8" stroke="#000" stroke-width="1.6"/>
<path d="M49.2,715.1 L53.8,715.1" stroke="#000" stroke-width="1.6"/>
<path d="M49.2,709.4 L53.8,709.4" stroke="#000" stroke-width="1.6"/>
<path d="M49.2,703.8 L53.8,703.8" stroke="#000" stroke-width="1.6"/>
<path d="M49.2,698.1 L53.8,698.1" stroke="#000" stroke-width="1.6"/>
<path d="M44.8,692.4 L53.8,692.4" stroke="#000" stroke-width="1.6"/>
<path d="M49.2,687.2 L53.8,687.2" stroke="#000" stroke-width="1.6"/>
<path d="M49.2,682.0 L53.8,682.0" stroke="#000" stroke-width="1.6"/>
<path d="M49.2,676.9 L53.8,676.9" stroke="#000" stroke-width="1.6"/>
<path d="M49.2,671.7 L53.8,671.7" stroke="#000" stroke-width="1.6"/>
<path d="M44.8,666.5 L53.8,666.5" stroke="#000" stroke-width="1.6"/>
<path d="M49.2,660.8 L53.8,660.8" stroke="#000" stroke-width="1.6"/>
<path d="M49.2,655.1 L53.8,655.1" stroke="#000" stroke-width="1.6"/>
<path d="M49.2,649.4 L53.8,649.4" stroke="#000" stroke-width="1.6"/>
<path d="M49.2,643.7 L53.8,643.7" stroke="#000" stroke-width="1.6"/>
<path d="M44.8,638.0 L53.8,638.0" stroke="#000" stroke-width="1.6"/>
<path d="M49.2,632.8 L53.8,632.8" stroke="#000" stroke-width="1.6"/>
<path d="M49.2,627.6 L53.8,627.6" stroke="#000" stroke-width="1.6"/>
<path d="M49.2,622.5 L53.8,622.5" stroke="#000" stroke-width="1.6"/>
<path d="M49.2,617.3 L53.8,617.3" stroke="#000" stroke-width="1.6"/>
<path d="M44.8,612.1 L53.8,612.1" stroke="#000" stroke-width="1.6"/>
<g transform="translate(37.8,848.4) rotate(-90)"><text text-anchor="middle" font-size="17">0</text></g>
<g transform="translate(37.8,822.5) rotate(-90)"><text text-anchor="middle" font-size="17"> 0</text><path d="M515,0 L515,1237 L197,1010 L197,1180 L530,1409 L696,1409 L696,0 Z" transform="translate(-9.46,0.00) scale(0.00830,-0.00830)"/></g>
<g transform="translate(37.8,796.6) rotate(-90)"><text text-anchor="middle" font-size="17">20</text></g>
<g transform="translate(37.8,770.7) rotate(-90)"><text text-anchor="middle" font-size="17">30</text></g>
<g transform="translate(37.8,743.8) rotate(-90)"><text text-anchor="middle" font-size="17">40</text></g>
<g transform="translate(37.8,717.8) rotate(-90)"><text text-anchor="middle" font-size="17">50</text></g>
<g transform="translate(37.8,689.4) rotate(-90)"><text text-anchor="middle" font-size="17">60</text></g>
<g transform="translate(37.8,663.5) rotate(-90)"><text text-anchor="middle" font-size="17">70</text></g>
<g transform="translate(37.8,635.0) rotate(-90)"><text text-anchor="middle" font-size="17">80</text></g>
<g transform="translate(37.8,609.1) rotate(-90)"><text text-anchor="middle" font-size="17">90</text></g>
<path d="M55.6,852.4 L55.6,862.4" stroke="#000" stroke-width="1.6"/>
<path d="M78.2,852.4 L78.2,858.1999999999999" stroke="#000" stroke-width="1.6"/>
<path d="M91.5,852.4 L91.5,858.1999999999999" stroke="#000" stroke-width="1.6"/>
<path d="M100.9,852.4 L100.9,858.1999999999999" stroke="#000" stroke-width="1.6"/>
<path d="M108.2,852.4 L108.2,858.1999999999999" stroke="#000" stroke-width="1.6"/>
<path d="M114.1,852.4 L114.1,858.1999999999999" stroke="#000" stroke-width="1.6"/>
<path d="M119.2,852.4 L119.2,858.1999999999999" stroke="#000" stroke-width="1.6"/>
<path d="M123.5,852.4 L123.5,858.1999999999999" stroke="#000" stroke-width="1.6"/>
<path d="M127.4,852.4 L127.4,858.1999999999999" stroke="#000" stroke-width="1.6"/>
<path d="M130.8,852.4 L130.8,862.4" stroke="#000" stroke-width="1.6"/>
<path d="M152.8,852.4 L152.8,858.1999999999999" stroke="#000" stroke-width="1.6"/>
<path d="M165.7,852.4 L165.7,858.1999999999999" stroke="#000" stroke-width="1.6"/>
<path d="M174.9,852.4 L174.9,858.1999999999999" stroke="#000" stroke-width="1.6"/>
<path d="M182.0,852.4 L182.0,858.1999999999999" stroke="#000" stroke-width="1.6"/>
<path d="M187.8,852.4 L187.8,858.1999999999999" stroke="#000" stroke-width="1.6"/>
<path d="M192.7,852.4 L192.7,858.1999999999999" stroke="#000" stroke-width="1.6"/>
<path d="M196.9,852.4 L196.9,858.1999999999999" stroke="#000" stroke-width="1.6"/>
<path d="M200.7,852.4 L200.7,858.1999999999999" stroke="#000" stroke-width="1.6"/>
<path d="M204.0,852.4 L204.0,862.4" stroke="#000" stroke-width="1.6"/>
<path d="M226.0,852.4 L226.0,858.1999999999999" stroke="#000" stroke-width="1.6"/>
<path d="M238.9,852.4 L238.9,858.1999999999999" stroke="#000" stroke-width="1.6"/>
<path d="M248.1,852.4 L248.1,858.1999999999999" stroke="#000" stroke-width="1.6"/>
<path d="M255.2,852.4 L255.2,858.1999999999999" stroke="#000" stroke-width="1.6"/>
<path d="M261.0,852.4 L261.0,858.1999999999999" stroke="#000" stroke-width="1.6"/>
<path d="M265.9,852.4 L265.9,858.1999999999999" stroke="#000" stroke-width="1.6"/>
<path d="M270.1,852.4 L270.1,858.1999999999999" stroke="#000" stroke-width="1.6"/>
<path d="M273.9,852.4 L273.9,858.1999999999999" stroke="#000" stroke-width="1.6"/>
<path d="M277.2,852.4 L277.2,862.4" stroke="#000" stroke-width="1.6"/>
<path d="M299.1,852.4 L299.1,858.1999999999999" stroke="#000" stroke-width="1.6"/>
<path d="M311.9,852.4 L311.9,858.1999999999999" stroke="#000" stroke-width="1.6"/>
<path d="M321.0,852.4 L321.0,858.1999999999999" stroke="#000" stroke-width="1.6"/>
<path d="M328.1,852.4 L328.1,858.1999999999999" stroke="#000" stroke-width="1.6"/>
<path d="M333.8,852.4 L333.8,858.1999999999999" stroke="#000" stroke-width="1.6"/>
<path d="M338.7,852.4 L338.7,858.1999999999999" stroke="#000" stroke-width="1.6"/>
<path d="M342.9,852.4 L342.9,858.1999999999999" stroke="#000" stroke-width="1.6"/>
<path d="M346.7,852.4 L346.7,858.1999999999999" stroke="#000" stroke-width="1.6"/>
<path d="M350.0,852.4 L350.0,862.4" stroke="#000" stroke-width="1.6"/>
<text x="51.6" y="882.7" text-anchor="middle" font-size="17.5" letter-spacing="0.5"> 0</text><path d="M515,0 L515,1237 L197,1010 L197,1180 L530,1409 L696,1409 L696,0 Z" transform="translate(41.37,882.70) scale(0.00854,-0.00854)"/>
<text x="61.9" y="872.6" font-size="17">0</text>
<text x="126.8" y="882.7" text-anchor="middle" font-size="17.5" letter-spacing="0.5"> 0</text><path d="M515,0 L515,1237 L197,1010 L197,1180 L530,1409 L696,1409 L696,0 Z" transform="translate(116.57,882.70) scale(0.00854,-0.00854)"/>
<text x="137.1" y="872.6" font-size="17"> </text><path d="M515,0 L515,1237 L197,1010 L197,1180 L530,1409 L696,1409 L696,0 Z" transform="translate(137.10,872.60) scale(0.00830,-0.00830)"/>
<text x="200.0" y="882.7" text-anchor="middle" font-size="17.5" letter-spacing="0.5"> 0</text><path d="M515,0 L515,1237 L197,1010 L197,1180 L530,1409 L696,1409 L696,0 Z" transform="translate(189.77,882.70) scale(0.00854,-0.00854)"/>
<text x="210.3" y="872.6" font-size="17">2</text>
<text x="273.2" y="882.7" text-anchor="middle" font-size="17.5" letter-spacing="0.5"> 0</text><path d="M515,0 L515,1237 L197,1010 L197,1180 L530,1409 L696,1409 L696,0 Z" transform="translate(262.97,882.70) scale(0.00854,-0.00854)"/>
<text x="283.5" y="872.6" font-size="17">3</text>
<text x="346.0" y="882.7" text-anchor="middle" font-size="17.5" letter-spacing="0.5"> 0</text><path d="M515,0 L515,1237 L197,1010 L197,1180 L530,1409 L696,1409 L696,0 Z" transform="translate(335.77,882.70) scale(0.00854,-0.00854)"/>
<text x="356.3" y="872.6" font-size="17">4</text>
<text transform="translate(17.4,733.1) rotate(-90)" text-anchor="middle" font-size="17.5">Counts</text>
<path d="M54.5,1151.6 L54.5,909.6 L353.0,909.6 L353.0,1151.6" fill="none" stroke="#000" stroke-width="1.85"/>
<path d="M53.5,1152.0 L355.5,1152.0" fill="none" stroke="#000" stroke-width="3.1"/>
<path d="M45.5,1150.9 L54.5,1150.9" stroke="#000" stroke-width="1.6"/>
<path d="M49.9,1145.7 L54.5,1145.7" stroke="#000" stroke-width="1.6"/>
<path d="M49.9,1140.5 L54.5,1140.5" stroke="#000" stroke-width="1.6"/>
<path d="M49.9,1135.4 L54.5,1135.4" stroke="#000" stroke-width="1.6"/>
<path d="M49.9,1130.2 L54.5,1130.2" stroke="#000" stroke-width="1.6"/>
<path d="M45.5,1125.0 L54.5,1125.0" stroke="#000" stroke-width="1.6"/>
<path d="M49.9,1119.8 L54.5,1119.8" stroke="#000" stroke-width="1.6"/>
<path d="M49.9,1114.6 L54.5,1114.6" stroke="#000" stroke-width="1.6"/>
<path d="M49.9,1109.5 L54.5,1109.5" stroke="#000" stroke-width="1.6"/>
<path d="M49.9,1104.3 L54.5,1104.3" stroke="#000" stroke-width="1.6"/>
<path d="M45.5,1099.1 L54.5,1099.1" stroke="#000" stroke-width="1.6"/>
<path d="M49.9,1093.9 L54.5,1093.9" stroke="#000" stroke-width="1.6"/>
<path d="M49.9,1088.7 L54.5,1088.7" stroke="#000" stroke-width="1.6"/>
<path d="M49.9,1083.6 L54.5,1083.6" stroke="#000" stroke-width="1.6"/>
<path d="M49.9,1078.4 L54.5,1078.4" stroke="#000" stroke-width="1.6"/>
<path d="M45.5,1073.2 L54.5,1073.2" stroke="#000" stroke-width="1.6"/>
<path d="M49.9,1068.0 L54.5,1068.0" stroke="#000" stroke-width="1.6"/>
<path d="M49.9,1062.8 L54.5,1062.8" stroke="#000" stroke-width="1.6"/>
<path d="M49.9,1057.7 L54.5,1057.7" stroke="#000" stroke-width="1.6"/>
<path d="M49.9,1052.5 L54.5,1052.5" stroke="#000" stroke-width="1.6"/>
<path d="M45.5,1047.3 L54.5,1047.3" stroke="#000" stroke-width="1.6"/>
<path d="M49.9,1042.1 L54.5,1042.1" stroke="#000" stroke-width="1.6"/>
<path d="M49.9,1036.9 L54.5,1036.9" stroke="#000" stroke-width="1.6"/>
<path d="M49.9,1031.7 L54.5,1031.7" stroke="#000" stroke-width="1.6"/>
<path d="M49.9,1026.5 L54.5,1026.5" stroke="#000" stroke-width="1.6"/>
<path d="M45.5,1021.3 L54.5,1021.3" stroke="#000" stroke-width="1.6"/>
<path d="M49.9,1015.6 L54.5,1015.6" stroke="#000" stroke-width="1.6"/>
<path d="M49.9,1009.9 L54.5,1009.9" stroke="#000" stroke-width="1.6"/>
<path d="M49.9,1004.3 L54.5,1004.3" stroke="#000" stroke-width="1.6"/>
<path d="M49.9,998.6 L54.5,998.6" stroke="#000" stroke-width="1.6"/>
<path d="M45.5,992.9 L54.5,992.9" stroke="#000" stroke-width="1.6"/>
<path d="M49.9,987.7 L54.5,987.7" stroke="#000" stroke-width="1.6"/>
<path d="M49.9,982.5 L54.5,982.5" stroke="#000" stroke-width="1.6"/>
<path d="M49.9,977.4 L54.5,977.4" stroke="#000" stroke-width="1.6"/>
<path d="M49.9,972.2 L54.5,972.2" stroke="#000" stroke-width="1.6"/>
<path d="M45.5,967.0 L54.5,967.0" stroke="#000" stroke-width="1.6"/>
<path d="M49.9,961.2 L54.5,961.2" stroke="#000" stroke-width="1.6"/>
<path d="M49.9,955.4 L54.5,955.4" stroke="#000" stroke-width="1.6"/>
<path d="M49.9,949.6 L54.5,949.6" stroke="#000" stroke-width="1.6"/>
<path d="M49.9,943.8 L54.5,943.8" stroke="#000" stroke-width="1.6"/>
<path d="M45.5,938.0 L54.5,938.0" stroke="#000" stroke-width="1.6"/>
<path d="M49.9,932.8 L54.5,932.8" stroke="#000" stroke-width="1.6"/>
<path d="M49.9,927.6 L54.5,927.6" stroke="#000" stroke-width="1.6"/>
<path d="M49.9,922.5 L54.5,922.5" stroke="#000" stroke-width="1.6"/>
<path d="M49.9,917.3 L54.5,917.3" stroke="#000" stroke-width="1.6"/>
<path d="M45.5,912.1 L54.5,912.1" stroke="#000" stroke-width="1.6"/>
<g transform="translate(39.0,1147.9) rotate(-90)"><text text-anchor="middle" font-size="17">0</text></g>
<g transform="translate(39.0,1122.0) rotate(-90)"><text text-anchor="middle" font-size="17"> 0</text><path d="M515,0 L515,1237 L197,1010 L197,1180 L530,1409 L696,1409 L696,0 Z" transform="translate(-9.46,0.00) scale(0.00830,-0.00830)"/></g>
<g transform="translate(39.0,1096.1) rotate(-90)"><text text-anchor="middle" font-size="17">20</text></g>
<g transform="translate(39.0,1070.2) rotate(-90)"><text text-anchor="middle" font-size="17">30</text></g>
<g transform="translate(39.0,1044.3) rotate(-90)"><text text-anchor="middle" font-size="17">40</text></g>
<g transform="translate(39.0,1018.3) rotate(-90)"><text text-anchor="middle" font-size="17">50</text></g>
<g transform="translate(39.0,989.9) rotate(-90)"><text text-anchor="middle" font-size="17">60</text></g>
<g transform="translate(39.0,964.0) rotate(-90)"><text text-anchor="middle" font-size="17">70</text></g>
<g transform="translate(39.0,935.0) rotate(-90)"><text text-anchor="middle" font-size="17">80</text></g>
<g transform="translate(39.0,909.1) rotate(-90)"><text text-anchor="middle" font-size="17">90</text></g>
<path d="M56.5,1151.6 L56.5,1161.6" stroke="#000" stroke-width="1.6"/>
<path d="M79.0,1151.6 L79.0,1157.3999999999999" stroke="#000" stroke-width="1.6"/>
<path d="M92.2,1151.6 L92.2,1157.3999999999999" stroke="#000" stroke-width="1.6"/>
<path d="M101.5,1151.6 L101.5,1157.3999999999999" stroke="#000" stroke-width="1.6"/>
<path d="M108.8,1151.6 L108.8,1157.3999999999999" stroke="#000" stroke-width="1.6"/>
<path d="M114.7,1151.6 L114.7,1157.3999999999999" stroke="#000" stroke-width="1.6"/>
<path d="M119.7,1151.6 L119.7,1157.3999999999999" stroke="#000" stroke-width="1.6"/>
<path d="M124.1,1151.6 L124.1,1157.3999999999999" stroke="#000" stroke-width="1.6"/>
<path d="M127.9,1151.6 L127.9,1157.3999999999999" stroke="#000" stroke-width="1.6"/>
<path d="M131.3,1151.6 L131.3,1161.6" stroke="#000" stroke-width="1.6"/>
<path d="M153.1,1151.6 L153.1,1157.3999999999999" stroke="#000" stroke-width="1.6"/>
<path d="M165.9,1151.6 L165.9,1157.3999999999999" stroke="#000" stroke-width="1.6"/>
<path d="M174.9,1151.6 L174.9,1157.3999999999999" stroke="#000" stroke-width="1.6"/>
<path d="M182.0,1151.6 L182.0,1157.3999999999999" stroke="#000" stroke-width="1.6"/>
<path d="M187.7,1151.6 L187.7,1157.3999999999999" stroke="#000" stroke-width="1.6"/>
<path d="M192.6,1151.6 L192.6,1157.3999999999999" stroke="#000" stroke-width="1.6"/>
<path d="M196.8,1151.6 L196.8,1157.3999999999999" stroke="#000" stroke-width="1.6"/>
<path d="M200.5,1151.6 L200.5,1157.3999999999999" stroke="#000" stroke-width="1.6"/>
<path d="M203.8,1151.6 L203.8,1161.6" stroke="#000" stroke-width="1.6"/>
<path d="M226.1,1151.6 L226.1,1157.3999999999999" stroke="#000" stroke-width="1.6"/>
<path d="M239.1,1151.6 L239.1,1157.3999999999999" stroke="#000" stroke-width="1.6"/>
<path d="M248.4,1151.6 L248.4,1157.3999999999999" stroke="#000" stroke-width="1.6"/>
<path d="M255.5,1151.6 L255.5,1157.3999999999999" stroke="#000" stroke-width="1.6"/>
<path d="M261.4,1151.6 L261.4,1157.3999999999999" stroke="#000" stroke-width="1.6"/>
<path d="M266.3,1151.6 L266.3,1157.3999999999999" stroke="#000" stroke-width="1.6"/>
<path d="M270.6,1151.6 L270.6,1157.3999999999999" stroke="#000" stroke-width="1.6"/>
<path d="M274.4,1151.6 L274.4,1157.3999999999999" stroke="#000" stroke-width="1.6"/>
<path d="M277.8,1151.6 L277.8,1161.6" stroke="#000" stroke-width="1.6"/>
<path d="M299.9,1151.6 L299.9,1157.3999999999999" stroke="#000" stroke-width="1.6"/>
<path d="M312.8,1151.6 L312.8,1157.3999999999999" stroke="#000" stroke-width="1.6"/>
<path d="M321.9,1151.6 L321.9,1157.3999999999999" stroke="#000" stroke-width="1.6"/>
<path d="M329.0,1151.6 L329.0,1157.3999999999999" stroke="#000" stroke-width="1.6"/>
<path d="M334.8,1151.6 L334.8,1157.3999999999999" stroke="#000" stroke-width="1.6"/>
<path d="M339.7,1151.6 L339.7,1157.3999999999999" stroke="#000" stroke-width="1.6"/>
<path d="M344.0,1151.6 L344.0,1157.3999999999999" stroke="#000" stroke-width="1.6"/>
<path d="M347.7,1151.6 L347.7,1157.3999999999999" stroke="#000" stroke-width="1.6"/>
<path d="M351.1,1151.6 L351.1,1161.6" stroke="#000" stroke-width="1.6"/>
<text x="52.5" y="1181.9" text-anchor="middle" font-size="17.5" letter-spacing="0.5"> 0</text><path d="M515,0 L515,1237 L197,1010 L197,1180 L530,1409 L696,1409 L696,0 Z" transform="translate(42.27,1181.90) scale(0.00854,-0.00854)"/>
<text x="62.8" y="1171.8" font-size="17">0</text>
<text x="127.3" y="1181.9" text-anchor="middle" font-size="17.5" letter-spacing="0.5"> 0</text><path d="M515,0 L515,1237 L197,1010 L197,1180 L530,1409 L696,1409 L696,0 Z" transform="translate(117.07,1181.90) scale(0.00854,-0.00854)"/>
<text x="137.6" y="1171.8" font-size="17"> </text><path d="M515,0 L515,1237 L197,1010 L197,1180 L530,1409 L696,1409 L696,0 Z" transform="translate(137.60,1171.80) scale(0.00830,-0.00830)"/>
<text x="199.8" y="1181.9" text-anchor="middle" font-size="17.5" letter-spacing="0.5"> 0</text><path d="M515,0 L515,1237 L197,1010 L197,1180 L530,1409 L696,1409 L696,0 Z" transform="translate(189.57,1181.90) scale(0.00854,-0.00854)"/>
<text x="210.1" y="1171.8" font-size="17">2</text>
<text x="273.8" y="1181.9" text-anchor="middle" font-size="17.5" letter-spacing="0.5"> 0</text><path d="M515,0 L515,1237 L197,1010 L197,1180 L530,1409 L696,1409 L696,0 Z" transform="translate(263.57,1181.90) scale(0.00854,-0.00854)"/>
<text x="284.1" y="1171.8" font-size="17">3</text>
<text x="347.1" y="1181.9" text-anchor="middle" font-size="17.5" letter-spacing="0.5"> 0</text><path d="M515,0 L515,1237 L197,1010 L197,1180 L530,1409 L696,1409 L696,0 Z" transform="translate(336.87,1181.90) scale(0.00854,-0.00854)"/>
<text x="357.4" y="1171.8" font-size="17">4</text>
<text transform="translate(19.0,1032.6) rotate(-90)" text-anchor="middle" font-size="17.5">Counts</text>
<g transform="translate(200.3,50.6) scale(1.03,1)"><text font-size="22.3" letter-spacing="3.0">anti-CD22</text></g>
<g transform="translate(203.3,355.2) scale(1.03,1)"><text font-size="22.3" letter-spacing="3.0">anti-CD 9</text><path d="M515,0 L515,1237 L197,1010 L197,1180 L530,1409 L696,1409 L696,0 Z" transform="translate(96.54,0.00) scale(0.01089,-0.01089)"/></g>
<g transform="translate(199.3,653.3) scale(1.045,1)"><text font-size="24" letter-spacing="0.3">anti-MHCII</text></g>
<g transform="translate(246.6,687.3) scale(1.22,1)"><text font-size="15.5" letter-spacing="4.2">(TI2-3)</text></g>
<g transform="translate(242.8,955) scale(1.03,1)"><text font-size="22.3" letter-spacing="4.0">anti-Id</text></g>
<g transform="translate(180.0,1198.7) scale(1.1,1)"><text font-size="14.5" letter-spacing="0">FL -H</text><path d="M515,0 L515,1237 L197,1010 L197,1180 L530,1409 L696,1409 L696,0 Z" transform="translate(16.90,0.00) scale(0.00708,-0.00708)"/></g>
<path d="M52,1227.8 L306,1227.8" stroke="#000" stroke-width="2.6"/>
<path d="M304.2,1218.9 L323.8,1228.2 L304.2,1236.6 Z" fill="#000"/>
<g transform="translate(76.4,1273) scale(1.08,1)"><text font-size="23" letter-spacing="1.2">FITC-anti-rat</text></g>
<g transform="translate(255.6,1273) scale(1.05,1)"><text font-size="23" letter-spacing="1.0">IgG</text></g>
</svg></body></html>
